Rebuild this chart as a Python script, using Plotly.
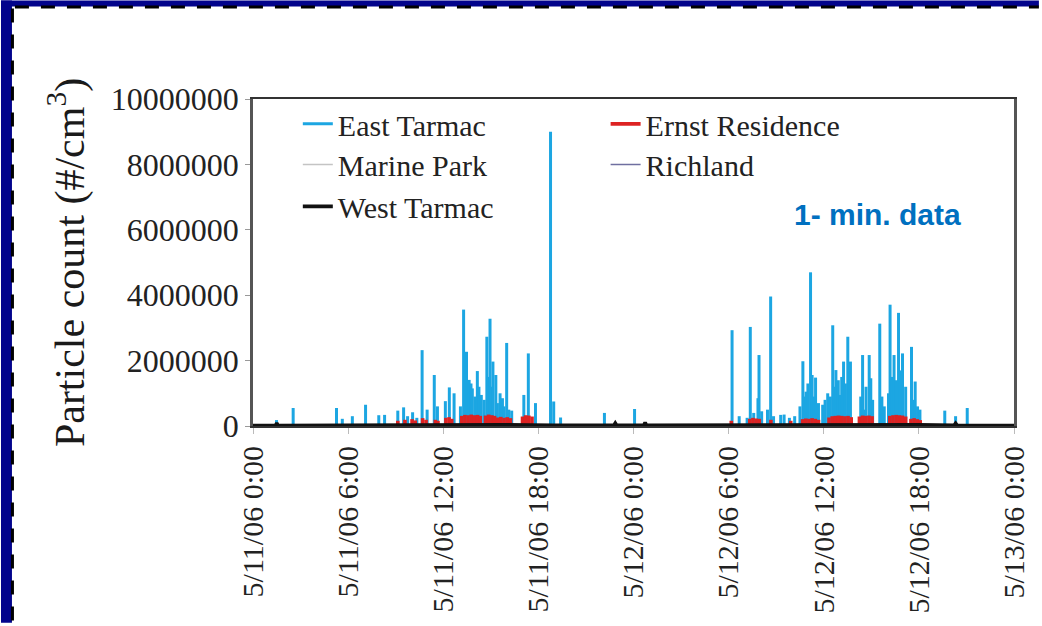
import plotly.graph_objects as go

# ---- data: 1-minute particle counts (#/cm^3), peaks by site ----
east_time = [
    "2006-05-11 01:29", "2006-05-11 02:32", "2006-05-11 05:16", "2006-05-11 05:38",
    "2006-05-11 06:16", "2006-05-11 07:06", "2006-05-11 07:56", "2006-05-11 08:18",
    "2006-05-11 09:08", "2006-05-11 09:30", "2006-05-11 09:45", "2006-05-11 10:04",
    "2006-05-11 10:20", "2006-05-11 10:40", "2006-05-11 10:59", "2006-05-11 11:26",
    "2006-05-11 11:38", "2006-05-11 12:08", "2006-05-11 12:23", "2006-05-11 12:41",
    "2006-05-11 13:05", "2006-05-11 13:17", "2006-05-11 13:28", "2006-05-11 13:38",
    "2006-05-11 13:45", "2006-05-11 13:50", "2006-05-11 14:00", "2006-05-11 14:09",
    "2006-05-11 14:15", "2006-05-11 14:24", "2006-05-11 14:35", "2006-05-11 14:45",
    "2006-05-11 14:50", "2006-05-11 14:57", "2006-05-11 15:00", "2006-05-11 15:08",
    "2006-05-11 15:19", "2006-05-11 15:25", "2006-05-11 15:35", "2006-05-11 15:44",
    "2006-05-11 15:50", "2006-05-11 16:00", "2006-05-11 16:08", "2006-05-11 16:19",
    "2006-05-11 17:05", "2006-05-11 17:22", "2006-05-11 17:49", "2006-05-11 18:46",
    "2006-05-11 18:58", "2006-05-11 19:24", "2006-05-11 22:10",
    "2006-05-12 00:04", "2006-05-12 06:13", "2006-05-12 06:40", "2006-05-12 07:10",
    "2006-05-12 07:22", "2006-05-12 07:35", "2006-05-12 07:51", "2006-05-12 07:55",
    "2006-05-12 08:05", "2006-05-12 08:27", "2006-05-12 08:39", "2006-05-12 08:50",
    "2006-05-12 09:17", "2006-05-12 09:30", "2006-05-12 09:50", "2006-05-12 10:10",
    "2006-05-12 10:30", "2006-05-12 10:41", "2006-05-12 10:45", "2006-05-12 10:53",
    "2006-05-12 11:00", "2006-05-12 11:10", "2006-05-12 11:16", "2006-05-12 11:22",
    "2006-05-12 11:29", "2006-05-12 11:40", "2006-05-12 11:56", "2006-05-12 12:05",
    "2006-05-12 12:15", "2006-05-12 12:25", "2006-05-12 12:34", "2006-05-12 12:40",
    "2006-05-12 12:46", "2006-05-12 12:55", "2006-05-12 13:03", "2006-05-12 13:08",
    "2006-05-12 13:15", "2006-05-12 13:22", "2006-05-12 13:31", "2006-05-12 13:36",
    "2006-05-12 13:41", "2006-05-12 14:20", "2006-05-12 14:27", "2006-05-12 14:34",
    "2006-05-12 14:40", "2006-05-12 14:52", "2006-05-12 14:58", "2006-05-12 15:05",
    "2006-05-12 15:32", "2006-05-12 15:40", "2006-05-12 15:49", "2006-05-12 16:05",
    "2006-05-12 16:11", "2006-05-12 16:18", "2006-05-12 16:26", "2006-05-12 16:35",
    "2006-05-12 16:43", "2006-05-12 16:50", "2006-05-12 16:58", "2006-05-12 17:10",
    "2006-05-12 17:32", "2006-05-12 17:38", "2006-05-12 17:46", "2006-05-12 17:55",
    "2006-05-12 18:04", "2006-05-12 19:38", "2006-05-12 20:19", "2006-05-12 21:03",
]
east_vals = [
    180000, 550000, 550000, 220000,
    300000, 650000, 330000, 340000,
    470000, 570000, 300000, 420000,
    250000, 2320000, 500000, 1560000,
    600000, 760000, 1180000, 1000000,
    600000, 3560000, 2270000, 1410000,
    1300000, 1150000, 900000, 1680000,
    1200000, 950000, 800000, 2730000,
    1500000, 3280000, 1200000, 1970000,
    1560000, 700000, 1000000, 850000,
    600000, 2540000, 500000, 470000,
    950000, 2220000, 700000, 9000000,
    750000, 260000, 400000,
    520000, 2930000, 300000, 250000,
    3030000, 400000, 850000, 2170000,
    450000, 500000, 3960000, 300000,
    340000, 350000, 250000, 300000,
    600000, 1980000, 900000, 1050000,
    1300000, 4700000, 1560000, 900000,
    1480000, 700000, 650000, 800000,
    1000000, 900000, 3080000, 1200000,
    1710000, 1400000, 950000, 1500000,
    1970000, 1300000, 2730000, 1400000,
    1970000, 900000, 2170000, 500000,
    1200000, 2170000, 1460000, 800000,
    3130000, 900000, 600000, 1000000,
    3710000, 1500000, 2170000, 1400000,
    3460000, 1700000, 2220000, 1200000,
    2420000, 800000, 1360000, 600000,
    500000, 470000, 300000, 550000,
]

ernst_time = [
    "2006-05-11 09:08", "2006-05-11 09:35", "2006-05-11 10:02", "2006-05-11 10:14",
    "2006-05-11 10:42", "2006-05-11 10:55", "2006-05-11 11:30", "2006-05-11 11:40",
    "2006-05-11 12:10", "2006-05-11 12:22", "2006-05-11 12:32", "2006-05-11 13:10",
    "2006-05-11 13:22", "2006-05-11 13:34", "2006-05-11 13:46", "2006-05-11 13:58",
    "2006-05-11 14:10", "2006-05-11 14:20", "2006-05-11 14:40", "2006-05-11 14:52",
    "2006-05-11 15:04", "2006-05-11 15:14", "2006-05-11 15:26", "2006-05-11 15:38",
    "2006-05-11 15:50", "2006-05-11 16:02", "2006-05-11 16:14", "2006-05-11 17:00",
    "2006-05-11 17:12", "2006-05-11 17:24", "2006-05-11 17:36",
    "2006-05-12 06:10", "2006-05-12 07:20", "2006-05-12 07:32", "2006-05-12 07:44",
    "2006-05-12 07:56", "2006-05-12 08:40", "2006-05-12 09:55", "2006-05-12 10:40",
    "2006-05-12 10:52", "2006-05-12 11:04", "2006-05-12 11:16", "2006-05-12 11:28",
    "2006-05-12 11:40", "2006-05-12 12:20", "2006-05-12 12:32", "2006-05-12 12:44",
    "2006-05-12 12:56", "2006-05-12 13:08", "2006-05-12 13:20", "2006-05-12 13:32",
    "2006-05-12 13:44", "2006-05-12 14:15", "2006-05-12 14:27", "2006-05-12 14:39",
    "2006-05-12 14:51", "2006-05-12 15:03", "2006-05-12 16:10", "2006-05-12 16:22",
    "2006-05-12 16:34", "2006-05-12 16:46", "2006-05-12 16:58", "2006-05-12 17:10",
    "2006-05-12 17:30", "2006-05-12 17:42", "2006-05-12 17:54", "2006-05-12 18:05",
]
ernst_vals = [
    160000, 190000, 210000, 170000,
    240000, 190000, 190000, 160000,
    250000, 270000, 220000, 310000,
    340000, 330000, 350000, 330000,
    340000, 310000, 320000, 350000,
    330000, 310000, 260000, 280000,
    250000, 270000, 240000, 290000,
    330000, 320000, 290000,
    160000, 220000, 250000, 230000,
    220000, 190000, 160000, 210000,
    230000, 220000, 240000, 220000,
    190000, 260000, 300000, 310000,
    320000, 310000, 300000, 310000,
    270000, 290000, 320000, 310000,
    320000, 300000, 310000, 330000,
    340000, 330000, 320000, 290000,
    220000, 240000, 210000, 180000,
]

west_time = [
    "2006-05-11 00:00", "2006-05-11 01:25", "2006-05-11 01:30", "2006-05-11 01:35",
    "2006-05-11 10:00", "2006-05-11 12:00", "2006-05-11 16:00", "2006-05-11 19:00",
    "2006-05-11 22:46", "2006-05-11 22:51", "2006-05-11 22:56", "2006-05-12 00:39",
    "2006-05-12 00:44", "2006-05-12 00:49", "2006-05-12 06:00", "2006-05-12 09:00",
    "2006-05-12 14:00", "2006-05-12 18:00", "2006-05-12 20:14", "2006-05-12 20:19",
    "2006-05-12 20:24", "2006-05-13 00:00",
]
west_vals = [
    15000, 15000, 90000, 15000,
    30000, 40000, 40000, 25000,
    25000, 90000, 25000, 25000,
    110000, 25000, 30000, 50000,
    40000, 40000, 25000, 80000,
    25000, 15000,
]

marine_time = ["2006-05-11 00:00", "2006-05-11 12:00", "2006-05-12 00:00",
               "2006-05-12 12:00", "2006-05-13 00:00"]
marine_vals = [8000, 12000, 9000, 12000, 8000]

richland_time = ["2006-05-11 00:00", "2006-05-11 12:00", "2006-05-12 00:00",
                 "2006-05-12 12:00", "2006-05-13 00:00"]
richland_vals = [10000, 15000, 10000, 15000, 10000]

y_ticks = [0, 2000000, 4000000, 6000000, 8000000, 10000000]

# ---- geometry of the page (pixels) ----
W, H = 1042, 626
ML, MR, MT, MB = 253, 25, 99, 198
PW, PH = W - ML - MR, H - MT - MB


def px(x):
    return (x - ML) / PW


def py(y):
    return (H - MB - y) / PH


def stems(times, vals):
    xs, ys = [], []
    for t, v in zip(times, vals):
        xs += [t, t, None]
        ys += [0, v, None]
    return xs, ys


SERIF = "Liberation Serif, Times New Roman, serif"

fig = go.Figure()

ex, ey = stems(east_time, east_vals)
fig.add_trace(go.Scatter(x=ex, y=ey, mode="lines", name="East Tarmac",
                         line=dict(color="#1CA6E2", width=3), legend="legend"))
fig.add_trace(go.Scatter(x=marine_time, y=marine_vals, mode="lines", name="Marine Park",
                         line=dict(color="#C4C4C4", width=1.5), legend="legend2"))
fig.add_trace(go.Scatter(x=richland_time, y=richland_vals, mode="lines", name="Richland",
                         line=dict(color="#6F6FA0", width=1.5), legend="legend5"))
rx, ry = stems(ernst_time, ernst_vals)
fig.add_trace(go.Scatter(x=rx, y=ry, mode="lines", name="Ernst Residence",
                         line=dict(color="#DD2222", width=3.6), legend="legend4"))
fig.add_trace(go.Scatter(x=west_time, y=west_vals, mode="lines", name="West Tarmac",
                         line=dict(color="#111111", width=3.6), legend="legend3"))

leg_common = dict(font=dict(family=SERIF, size=30, color="#222222"),
                  bgcolor="rgba(0,0,0,0)", borderwidth=0,
                  xanchor="left", yanchor="middle", itemwidth=30)
col1, col2 = px(303 - 5), px(612 - 5)
fig.update_layout(
    legend=dict(x=col1, y=py(124), **leg_common),
    legend2=dict(x=col1, y=py(165), **leg_common),
    legend3=dict(x=col1, y=py(207), **leg_common),
    legend4=dict(x=col2, y=py(124), **leg_common),
    legend5=dict(x=col2, y=py(165), **leg_common),
)

# slide frame: navy band with a dashed edge on the left and top
navy = "#02038C"
fig.add_shape(type="rect", xref="paper", yref="paper", layer="below",
              x0=px(0), x1=px(11), y0=py(H), y1=py(0),
              fillcolor=navy, line_width=0)
fig.add_shape(type="rect", xref="paper", yref="paper", layer="below",
              x0=px(0), x1=px(W), y0=py(6), y1=py(0),
              fillcolor=navy, line_width=0)
fig.add_shape(type="line", xref="paper", yref="paper", layer="above",
              x0=px(11.5), x1=px(11.5), y0=py(8), y1=py(H),
              line=dict(color="black", width=3, dash="14px,12px"))
fig.add_shape(type="line", xref="paper", yref="paper", layer="above",
              x0=px(14), x1=px(W), y0=py(6.5), y1=py(6.5),
              line=dict(color="black", width=3, dash="14px,12px"))

fig.add_annotation(x=px(880), y=py(215), xref="paper", yref="paper",
                   xanchor="center", yanchor="middle",
                   text="<b>1- min. data</b>", showarrow=False,
                   font=dict(family="Liberation Sans, Arial, sans-serif", size=30,
                             color="#0070C0"))

fig.update_layout(
    width=W, height=H,
    margin=dict(l=ML, r=MR, t=MT, b=MB),
    paper_bgcolor="white", plot_bgcolor="white",
    showlegend=True,
    xaxis=dict(
        type="date",
        range=["2006-05-11 00:00", "2006-05-13 00:00"],
        dtick=6 * 3600 * 1000, tick0="2006-05-11 00:00",
        tickformat="%-m/%d/%y %-H:%M", tickangle=-90,
        tickfont=dict(family=SERIF, size=30, color="#222222"),
        ticks="outside", ticklen=6, tickcolor="#BBBBBB",
        showgrid=False, zeroline=False,
        showline=True, linecolor="#333333", linewidth=2, mirror=True,
    ),
    yaxis=dict(
        range=[0, 10000000], tickvals=y_ticks, tickformat="d",
        tickfont=dict(family=SERIF, size=32, color="#222222"),
        ticks="outside", ticklen=5, tickcolor="#999999",
        showgrid=False, zeroline=False,
        showline=True, linecolor="#555555", linewidth=2.5, mirror=True,
        title=dict(text="Particle count (#/cm<sup>3</sup>)",
                   font=dict(family=SERIF, size=42, color="#1A1A1A"),
                   standoff=14),
    ),
)

fig.write_html("out.html")
